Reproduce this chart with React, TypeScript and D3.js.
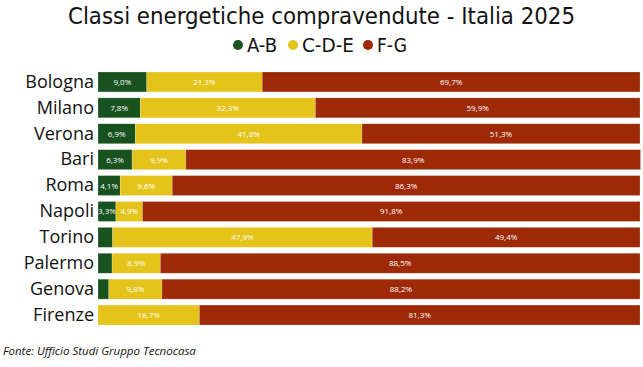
import React, { useEffect, useRef } from "react";
import * as d3 from "d3";

const cities = ["Bologna", "Milano", "Verona", "Bari", "Roma", "Napoli", "Torino", "Palermo", "Genova", "Firenze"];
const classAB = [9.0, 7.8, 6.9, 6.3, 4.1, 3.3, 2.7, 2.6, 2.0, 0];
const classCDE = [21.3, 32.3, 41.8, 9.9, 9.6, 4.9, 47.9, 8.9, 9.8, 18.7];
const classFG = [69.7, 59.9, 51.3, 83.9, 86.3, 91.8, 49.4, 88.5, 88.2, 81.3];
const seriesNames = ["A-B", "C-D-E", "F-G"];
const colors = ["#17521f", "#e4c41a", "#9d2906"];

const App = () => {
  const ref = useRef<SVGSVGElement>(null);

  useEffect(() => {
    const svg = d3.select(ref.current);
    svg.selectAll("*").remove();

    const width = 643, height = 367;
    const margin = { top: 72, right: 3, bottom: 42, left: 98 };

    const rows = cities.map((c, i) => ({ city: c, values: [classAB[i], classCDE[i], classFG[i]] }));

    const x = d3.scaleLinear().domain([0, 100]).range([margin.left, width - margin.right]);
    const y = d3.scaleBand()
      .domain(cities)
      .range([margin.top - 3, margin.top - 3 + 25.9 * cities.length])
      .paddingInner(0.23)
      .paddingOuter(0.115);

    const condensed = "DejaVu Sans Condensed, DejaVu Sans";

    // title
    svg.append("text")
      .attr("x", 68)
      .attr("y", 24)
      .attr("textLength", 507)
      .attr("lengthAdjust", "spacingAndGlyphs")
      .style("font-family", condensed)
      .style("font-stretch", "condensed")
      .style("font-size", "23.5px")
      .attr("fill", "#111")
      .text("Classi energetiche compravendute - Italia 2025");

    // legend
    const legendX = [238, 293, 368];
    const legendW = [30, 52, 30];
    const legend = svg.append("g");
    seriesNames.forEach((name, i) => {
      legend.append("circle").attr("cx", legendX[i]).attr("cy", 45).attr("r", 5).attr("fill", colors[i]);
      legend.append("text")
        .attr("x", legendX[i] + 9)
        .attr("y", 52)
        .attr("textLength", legendW[i])
        .attr("lengthAdjust", "spacingAndGlyphs")
        .style("font-family", condensed)
        .style("font-stretch", "condensed")
        .style("font-size", "20px")
        .attr("fill", "#111")
        .text(name);
    });

    // stacked segments
    const stack = d3.stack<any>()
      .keys([0, 1, 2] as any)
      .value((d: any, k: any) => d.values[k]);
    const stacked = stack(rows as any);

    stacked.forEach((layer, si) => {
      const g = svg.append("g");
      layer.forEach((seg: any) => {
        const city = seg.data.city;
        const x0 = x(seg[0]), x1 = x(seg[1]);
        if (x1 - x0 <= 0) return;
        g.append("rect")
          .attr("x", x0)
          .attr("y", y(city)!)
          .attr("width", x1 - x0)
          .attr("height", y.bandwidth())
          .attr("fill", colors[si])
          .attr("stroke", "#fff")
          .attr("stroke-opacity", 0.35)
          .attr("stroke-width", 0.6);
        const v = seg[1] - seg[0];
        if (v >= 3) {
          g.append("text")
            .attr("x", (x0 + x1) / 2)
            .attr("y", y(city)! + y.bandwidth() / 2 + 3)
            .attr("text-anchor", "middle")
            .style("font-family", "Open Sans, Noto Sans")
            .style("font-size", "8px")
            .attr("fill", "#fff")
            .text(v.toFixed(1).replace(".", ",") + "%");
        }
      });
    });

    // category axis
    const yAxis = svg.append("g")
      .attr("transform", `translate(${margin.left - 4},0)`)
      .call(d3.axisLeft(y).tickSize(0).tickPadding(0));
    yAxis.select(".domain").remove();
    yAxis.selectAll("text")
      .style("font-family", "Open Sans, Noto Sans")
      .style("font-size", "18px")
      .attr("fill", "#111");

    // source
    svg.append("text")
      .attr("x", 3)
      .attr("y", 355)
      .style("font-family", "Open Sans, Noto Sans")
      .style("font-style", "italic")
      .style("font-size", "11.5px")
      .attr("fill", "#111")
      .text("Fonte: Ufficio Studi Gruppo Tecnocasa");
  }, []);

  return (
    <svg
      ref={ref}
      width={643}
      height={367}
      style={{ position: "absolute", left: 0, top: 0, background: "#fff" }}
    />
  );
};

export default App;
